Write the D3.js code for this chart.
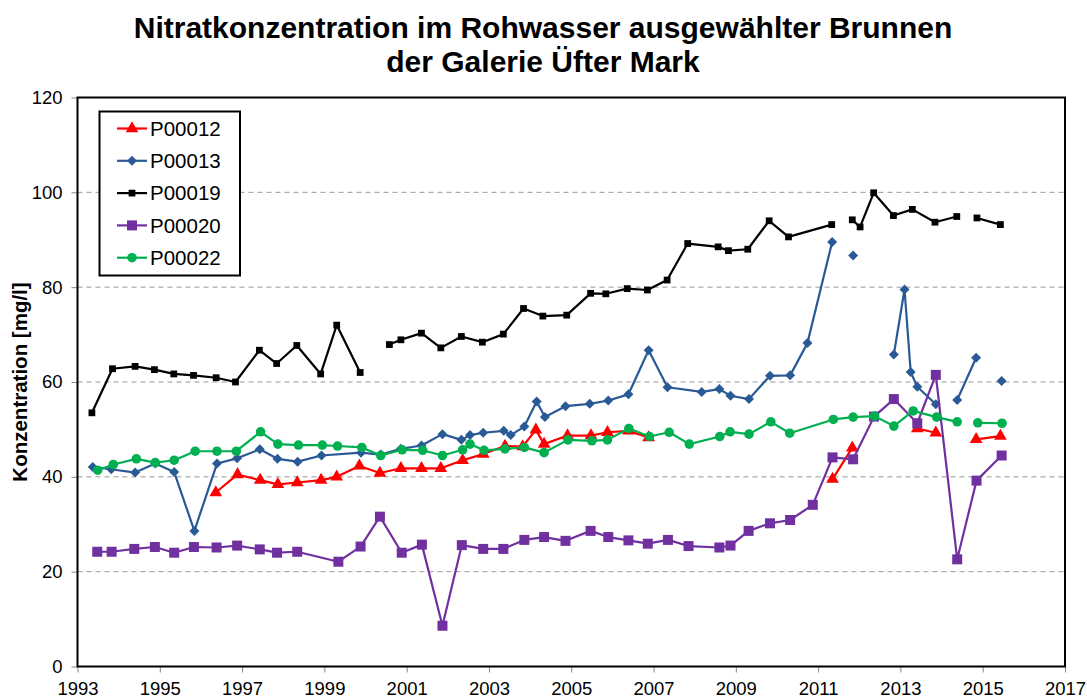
<!DOCTYPE html>
<html lang="de">
	<head>
		<meta charset="UTF-8">
		<title>Nitratkonzentration Galerie Üfter Mark</title>
		<script src="https://cdn.jsdelivr.net/npm/d3@7"></script>
		<style>
			body { margin: 0; background: #fff; }
			text { font-family: "Liberation Sans", Arial, sans-serif; }
		</style>
	</head>
	<body>
		<div id="chart"></div>
		<script>
			// sample dates as decimal years, null = gap in the line
			const p12Years = [1996.36, 1996.89, 1997.44, 1997.87, 1998.34, 1998.92, 1999.30, 1999.85, 2000.35, 2000.86, 2001.36, 2001.83, 2002.36, 2002.86, 2003.39, 2003.82, 2004.14, 2004.34, 2004.91, 2005.48, 2005.88, 2006.39, 2006.88, null, 2011.35, 2011.83, null, 2013.41, 2013.86, null, 2014.84, 2015.43];
			const p12Values = [36.7, 40.5, 39.3, 38.4, 38.8, 39.3, 40.0, 42.3, 40.8, 41.8, 41.8, 41.8, 43.5, 44.8, 46.5, 46.4, 49.9, 46.9, 48.7, 48.7, 49.4, 49.7, 48.3, null, 39.5, 46.1, null, 50.2, 49.3, null, 47.9, 48.6];

			const p13Years = [1993.37, 1993.82, 1994.40, 1994.89, 1995.35, 1995.84, 1996.39, 1996.88, 1997.43, 1997.86, 1998.35, 1998.93, 1999.89, 2000.37, 2000.86, 2001.36, 2001.87, 2002.33, 2002.54, 2002.86, 2003.36, 2003.53, 2003.86, 2004.16, 2004.36, 2004.86, 2005.45, 2005.90, 2006.39, 2006.88, 2007.34, 2008.17, 2008.60, 2008.87, 2009.32, 2009.83, 2010.32, 2010.74, 2011.34, null, 2011.85, null, 2012.84, 2013.10, 2013.25, 2013.41, 2013.86, null, 2014.38, 2014.84, null, 2015.46];
			const p13Values = [42.1, 41.6, 40.9, 42.8, 41.0, 28.6, 42.8, 43.9, 45.8, 43.8, 43.2, 44.5, 45.1, 44.7, 45.9, 46.6, 49.0, 47.8, 48.8, 49.3, 49.7, 48.8, 50.6, 55.9, 52.6, 54.9, 55.4, 56.1, 57.4, 66.7, 58.9, 57.9, 58.5, 57.1, 56.4, 61.3, 61.4, 68.2, 89.5, null, 86.7, null, 65.8, 79.5, 62.1, 59.0, 55.3, null, 56.2, 65.1, null, 60.2];

			const p19Years = [1993.35, 1993.85, 1994.40, 1994.87, 1995.34, 1995.82, 1996.37, 1996.84, 1997.42, 1997.84, 1998.33, 1998.91, 1999.30, 1999.87, null, 2000.58, 2000.86, 2001.36, 2001.83, 2002.33, 2002.84, 2003.35, 2003.84, 2004.31, 2004.89, 2005.47, 2005.84, 2006.36, 2006.85, 2007.33, 2007.83, 2008.57, 2008.82, 2009.29, 2009.81, 2010.28, 2011.33, null, 2011.83, 2012.02, 2012.35, 2012.83, 2013.29, 2013.84, 2014.37, null, 2014.86, 2015.43];
			const p19Values = [53.5, 62.8, 63.3, 62.6, 61.7, 61.4, 60.9, 60.0, 66.7, 63.9, 67.7, 61.7, 72.0, 62.0, null, 67.9, 68.9, 70.3, 67.2, 69.6, 68.4, 70.1, 75.5, 73.9, 74.1, 78.7, 78.6, 79.7, 79.4, 81.5, 89.2, 88.5, 87.7, 88.0, 94.0, 90.6, 93.2, null, 94.2, 92.7, 99.9, 95.1, 96.4, 93.7, 94.9, null, 94.6, 93.2];

			const p20Years = [1993.48, 1993.83, 1994.38, 1994.88, 1995.35, 1995.83, 1996.38, 1996.88, 1997.43, 1997.85, 1998.34, 1999.34, 1999.88, 2000.35, 2000.88, 2001.37, 2001.87, 2002.34, 2002.86, 2003.35, 2003.86, 2004.34, 2004.86, 2005.47, 2005.90, 2006.39, 2006.86, 2007.35, 2007.85, 2008.60, 2008.87, 2009.31, 2009.83, 2010.32, 2010.87, 2011.35, 2011.85, 2012.36, 2012.84, 2013.41, 2013.86, 2014.38, 2014.85, 2015.46];
			const p20Values = [24.2, 24.2, 24.8, 25.2, 24.0, 25.2, 25.1, 25.5, 24.7, 24.0, 24.2, 22.1, 25.3, 31.6, 24.0, 25.7, 8.6, 25.6, 24.8, 24.8, 26.7, 27.3, 26.5, 28.6, 27.3, 26.6, 25.9, 26.7, 25.4, 25.1, 25.5, 28.6, 30.2, 30.9, 34.1, 44.1, 43.7, 52.7, 56.4, 51.3, 61.5, 22.6, 39.2, 44.5];

			const p22Years = [1993.49, 1993.87, 1994.43, 1994.89, 1995.35, 1995.86, 1996.39, 1996.86, 1997.45, 1997.87, 1998.37, 1998.95, 1999.32, 1999.91, 2000.37, 2000.89, 2001.39, 2001.87, 2002.36, 2002.54, 2002.88, 2003.39, 2003.86, 2004.34, 2004.92, 2005.50, 2005.88, 2006.40, 2006.90, 2007.38, 2007.87, 2008.61, 2008.86, 2009.32, 2009.85, 2010.31, 2011.37, 2011.85, 2012.37, 2012.84, 2013.31, 2013.88, 2014.38, null, 2014.88, 2015.47];
			const p22Values = [41.4, 42.6, 43.8, 43.0, 43.5, 45.4, 45.4, 45.4, 49.5, 46.9, 46.7, 46.7, 46.5, 46.2, 44.5, 45.7, 45.6, 44.5, 45.7, 46.9, 45.6, 45.9, 46.2, 45.1, 47.8, 47.6, 47.8, 50.2, 48.5, 49.4, 46.9, 48.5, 49.5, 49.0, 51.6, 49.2, 52.1, 52.6, 52.8, 50.7, 53.9, 52.6, 51.6, null, 51.4, 51.3];

			const seriesNames = ["P00012", "P00013", "P00019", "P00020", "P00022"];
			const xTicks = [1993, 1995, 1997, 1999, 2001, 2003, 2005, 2007, 2009, 2011, 2013, 2015, 2017];
			const yTicks = [0, 20, 40, 60, 80, 100, 120];

			const series = [
				{ name: seriesNames[0], years: p12Years, values: p12Values, color: "#ff0000", symbol: d3.symbolTriangle, size: 70, rotate: 0 },
				{ name: seriesNames[1], years: p13Years, values: p13Values, color: "#2a5a96", symbol: d3.symbolSquare, size: 50, rotate: 45 },
				{ name: seriesNames[2], years: p19Years, values: p19Values, color: "#000000", symbol: d3.symbolSquare, size: 46, rotate: 0 },
				{ name: seriesNames[3], years: p20Years, values: p20Values, color: "#7030a0", symbol: d3.symbolSquare, size: 100, rotate: 0 },
				{ name: seriesNames[4], years: p22Years, values: p22Values, color: "#00b050", symbol: d3.symbolCircle, size: 72, rotate: 0 }
			];

			const w = 1087;
			const h = 698;
			const plotLeft = 77.5, plotRight = 1065, plotTop = 97.5, plotBottom = 666.5;

			const svg = d3.select("#chart")
						  .append("svg")
						  .attr("width", w)
						  .attr("height", h);

			const xScale = d3.scaleLinear()
							 .domain([1993, 2017])
							 .range([plotLeft, plotRight]);

			const yScale = d3.scaleLinear()
							 .domain([0, 120])
							 .range([plotBottom, plotTop]);

			// title
			const title = svg.append("text")
							 .attr("text-anchor", "middle")
							 .attr("font-weight", "bold")
							 .attr("font-size", 30)
							 .attr("fill", "#000");
			title.append("tspan").attr("x", 543).attr("y", 38).text("Nitratkonzentration im Rohwasser ausgewählter Brunnen");
			title.append("tspan").attr("x", 543).attr("y", 72).text("der Galerie Üfter Mark");

			// gridlines
			svg.append("g")
			   .selectAll("line")
			   .data(yTicks.filter(d => d > 0 && d < 120))
			   .enter()
			   .append("line")
			   .attr("x1", plotLeft)
			   .attr("x2", plotRight)
			   .attr("y1", d => yScale(d))
			   .attr("y2", d => yScale(d))
			   .attr("stroke", "#999")
			   .attr("stroke-width", 1)
			   .attr("stroke-dasharray", "5,4");

			// axes
			const xAxis = d3.axisBottom(xScale)
							.tickValues(xTicks)
							.tickFormat(d3.format("d"))
							.tickSize(6)
							.tickSizeOuter(0);
			const gx = svg.append("g")
						  .attr("transform", `translate(0, ${plotBottom})`)
						  .call(xAxis);
			gx.select(".domain").remove();
			gx.selectAll("line").attr("stroke", "#888");
			gx.selectAll("text")
			  .attr("font-size", 18.5)
			  .attr("fill", "#000")
			  .attr("y", 12)
			  .attr("dy", "0.9em");

			const yAxis = d3.axisLeft(yScale)
							.tickValues(yTicks)
							.tickSize(6)
							.tickSizeOuter(0);
			const gy = svg.append("g")
						  .attr("transform", `translate(${plotLeft}, 0)`)
						  .call(yAxis);
			gy.select(".domain").remove();
			gy.selectAll("line").attr("stroke", "#888");
			gy.selectAll("text")
			  .attr("font-size", 18.5)
			  .attr("fill", "#000")
			  .attr("x", -15);

			// plot frame
			svg.append("rect")
			   .attr("x", plotLeft)
			   .attr("y", plotTop)
			   .attr("width", plotRight - plotLeft)
			   .attr("height", plotBottom - plotTop)
			   .attr("fill", "none")
			   .attr("stroke", "#000")
			   .attr("stroke-width", 2);

			svg.append("text")
			   .text("Konzentration [mg/l]")
			   .attr("font-weight", "bold")
			   .attr("font-size", 20.5)
			   .attr("text-anchor", "middle")
			   .attr("transform", `translate(27, 382) rotate(-90)`);

			const line = d3.line()
						   .defined(d => d[1] !== null)
						   .x(d => xScale(d[0]))
						   .y(d => yScale(d[1]));

			series.forEach(s => {
				const pts = s.years.map((y, i) => [y, s.values[i]]);
				svg.append("path")
				   .datum(pts)
				   .attr("d", line)
				   .attr("fill", "none")
				   .attr("stroke", s.color)
				   .attr("stroke-width", 2.2)
				   .attr("stroke-linejoin", "round");

				svg.append("g")
				   .selectAll("path")
				   .data(pts.filter(d => d[1] !== null))
				   .enter()
				   .append("path")
				   .attr("d", d3.symbol().type(s.symbol).size(s.size))
				   .attr("transform", d => `translate(${xScale(d[0])}, ${yScale(d[1])}) rotate(${s.rotate})`)
				   .attr("fill", s.color);
			});

			// legend
			const legend = svg.append("g");
			legend.append("rect")
				  .attr("x", 99.5)
				  .attr("y", 111.5)
				  .attr("width", 140.5)
				  .attr("height", 164)
				  .attr("fill", "#fff")
				  .attr("stroke", "#000")
				  .attr("stroke-width", 2);

			series.forEach((s, i) => {
				const cy = 128.5 + i * 32.3;
				legend.append("line")
					  .attr("x1", 117)
					  .attr("x2", 147)
					  .attr("y1", cy)
					  .attr("y2", cy)
					  .attr("stroke", s.color)
					  .attr("stroke-width", 2.2);
				legend.append("path")
					  .attr("d", d3.symbol().type(s.symbol).size(s.size))
					  .attr("transform", `translate(132, ${cy}) rotate(${s.rotate})`)
					  .attr("fill", s.color);
				legend.append("text")
					  .text(s.name)
					  .attr("x", 150)
					  .attr("y", cy)
					  .attr("dy", "0.36em")
					  .attr("font-size", 20.5)
					  .attr("fill", "#000");
			});
		</script>
	</body>
</html>
